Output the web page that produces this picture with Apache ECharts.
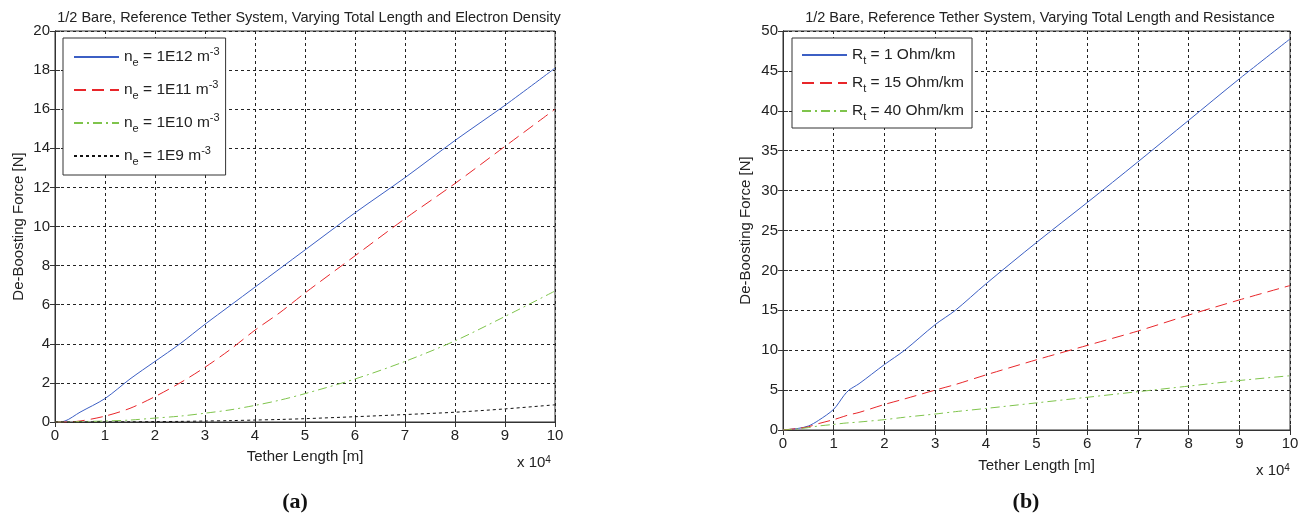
<!DOCTYPE html>
<html>
<head>
<meta charset="utf-8">
<script src="https://cdn.jsdelivr.net/npm/echarts@6/dist/echarts.min.js"></script>
<style>
  html, body { margin: 0; padding: 0; background: #fff; }
  #chart { width: 1306px; height: 515px; }
</style>
</head>
<body>
<div id="chart"></div>
<script>
// tether length, in units of 10^4 m
const lenA = [0, 0.2, 0.5, 1, 1.5, 2, 2.5, 3, 3.5, 4, 4.5, 5, 6, 7, 8, 9, 10];
// (a) de-boosting force [N] for each electron density
const ne12 = [0, 0.05, 0.5, 1.2, 2.2, 3.1, 4.0, 5.0, 5.95, 6.9, 7.85, 8.8, 10.7, 12.5, 14.4, 16.2, 18.1];
const ne11 = [0, 0, 0.05, 0.3, 0.7, 1.3, 2.0, 2.8, 3.7, 4.7, 5.6, 6.6, 8.5, 10.4, 12.2, 14.1, 16.0];
const ne10 = [0, 0, 0.02, 0.05, 0.1, 0.2, 0.3, 0.45, 0.62, 0.85, 1.12, 1.45, 2.2, 3.1, 4.15, 5.4, 6.7];
const ne9 = [0, 0, 0, 0.01, 0.01, 0.02, 0.03, 0.05, 0.07, 0.1, 0.13, 0.17, 0.27, 0.38, 0.5, 0.67, 0.88];

const lenB = [0, 0.3, 0.5, 0.7, 1, 1.2, 1.3, 1.5, 2, 2.4, 3, 3.4, 4, 5, 6, 7, 8, 9, 10];
// (b) de-boosting force [N] for each tether resistance
const rt1 = [0, 0.2, 0.5, 1.2, 2.6, 4.3, 5.0, 5.8, 8.2, 10.0, 13.2, 15.0, 18.3, 23.5, 28.5, 33.6, 38.8, 44.0, 49.0];
const rt15 = [0, 0.2, 0.4, 0.8, 1.3, 1.7, 1.9, 2.2, 3.2, 3.9, 5.0, 5.7, 6.9, 8.8, 10.6, 12.4, 14.4, 16.3, 18.1];
const rt40 = [0, 0.15, 0.3, 0.5, 0.7, 0.85, 0.9, 1.0, 1.3, 1.6, 2.0, 2.3, 2.7, 3.4, 4.1, 4.8, 5.5, 6.2, 6.8];

const BLUE = '#3c5fc4';
const RED = '#e8262a';
const GREEN = '#7fc44c';
const FONT = 'Liberation Sans';
const INK = '#222';

const chart = echarts.init(document.getElementById('chart'));

function pairs(xs, ys) {
  return xs.map((x, i) => [x, ys[i]]);
}

function line(name, idx, xs, ys, color, type) {
  return {
    name: name,
    type: 'line',
    xAxisIndex: idx,
    yAxisIndex: idx,
    data: pairs(xs, ys),
    symbol: 'none',
    smooth: 0.3,
    lineStyle: { color: color, width: 1, type: type },
    itemStyle: { color: color }
  };
}

const gridLine = { show: true, lineStyle: { color: '#222', width: 1, type: [3, 3] } };
const frame = { show: true, lineStyle: { color: '#333', width: 1 } };
const tickIn = { show: true, inside: true, length: 5, lineStyle: { color: '#333' } };
const tickLabel = { color: INK, fontFamily: FONT, fontSize: 15 };
const nameStyle = { color: INK, fontFamily: FONT, fontSize: 15 };

function bottomX(gi, gap) {
  return {
    gridIndex: gi, type: 'value', min: 0, max: 10, interval: 1,
    name: 'Tether Length [m]', nameLocation: 'middle', nameGap: gap,
    nameTextStyle: nameStyle,
    axisLine: frame, axisTick: tickIn, splitLine: gridLine,
    axisLabel: Object.assign({ margin: 6 }, tickLabel)
  };
}
function topX(gi) {
  return {
    gridIndex: gi, type: 'value', position: 'top', min: 0, max: 10, interval: 1,
    axisLine: frame, axisTick: tickIn, splitLine: { show: false }, axisLabel: { show: false }
  };
}
function leftY(gi, max, step, gap) {
  return {
    gridIndex: gi, type: 'value', min: 0, max: max, interval: step,
    name: 'De-Boosting Force [N]', nameLocation: 'middle', nameGap: gap,
    nameTextStyle: nameStyle,
    axisLine: frame, axisTick: tickIn, splitLine: gridLine,
    axisLabel: Object.assign({ margin: 5 }, tickLabel)
  };
}
function rightY(gi, max, step) {
  return {
    gridIndex: gi, type: 'value', position: 'right', min: 0, max: max, interval: step,
    axisLine: frame, axisTick: tickIn, splitLine: { show: false }, axisLabel: { show: false }
  };
}

const legendText = {
  color: INK, fontFamily: FONT, fontSize: 15.5, lineHeight: 22,
  rich: {
    a: { fontFamily: FONT, fontSize: 15.5, color: INK, verticalAlign: 'middle', lineHeight: 22 },
    sub: { fontFamily: FONT, fontSize: 11, color: INK, verticalAlign: 'bottom', lineHeight: 22 },
    sup: { fontFamily: FONT, fontSize: 11, color: INK, verticalAlign: 'top', lineHeight: 22 }
  }
};
const hideSymbol = { color: 'rgba(0,0,0,0)', borderWidth: 0, opacity: 0 };

const tenPow = {
  rich: {
    a: { fontFamily: FONT, fontSize: 15, fill: INK },
    s: { fontFamily: FONT, fontSize: 10, fill: INK, verticalAlign: 'top' }
  },
  text: '{a|x 10}{s|4}'
};

const option = {
  backgroundColor: '#fff',
  animation: false,
  title: [
    { text: '1/2 Bare, Reference Tether System, Varying Total Length and Electron Density',
      left: 304, top: 5, textAlign: 'center',
      textStyle: { fontFamily: FONT, fontSize: 14.5, fontWeight: 'normal', color: INK } },
    { text: '1/2 Bare, Reference Tether System, Varying Total Length and Resistance',
      left: 1035, top: 5, textAlign: 'center',
      textStyle: { fontFamily: FONT, fontSize: 14.5, fontWeight: 'normal', color: INK } },
    { text: '(a)', left: 290, top: 486, textAlign: 'center',
      textStyle: { fontFamily: 'Liberation Serif', fontSize: 22, fontWeight: 'bold', color: '#111' } },
    { text: '(b)', left: 1021, top: 486, textAlign: 'center',
      textStyle: { fontFamily: 'Liberation Serif', fontSize: 22, fontWeight: 'bold', color: '#111' } }
  ],
  grid: [
    { left: 55, right: 751, top: 31, bottom: 93, show: true, borderColor: '#333', borderWidth: 1 },
    { left: 783, right: 16, top: 31, bottom: 85, show: true, borderColor: '#333', borderWidth: 1 }
  ],
  xAxis: [bottomX(0, 27), bottomX(1, 28), topX(0), topX(1)],
  yAxis: [leftY(0, 20, 2, 29), leftY(1, 50, 5, 30), rightY(0, 20, 2), rightY(1, 50, 5)],
  legend: [
    {
      orient: 'vertical', left: 63, top: 38,
      padding: [8, 6, 8, 10], itemGap: 11, itemWidth: 45, itemHeight: 14,
      backgroundColor: '#fff', borderColor: '#333', borderWidth: 1, borderRadius: 0,
      selectedMode: false, itemStyle: hideSymbol,
      data: ['ne12', 'ne11', 'ne10', 'ne9'],
      formatter: function (n) {
        const v = { ne12: '1E12', ne11: '1E11', ne10: '1E10', ne9: '1E9' }[n];
        return '{a|n}{sub|e}{a| = ' + v + ' m}{sup|-3}';
      },
      textStyle: legendText
    },
    {
      orient: 'vertical', left: 792, top: 38,
      padding: [6, 8, 6, 9], itemGap: 6, itemWidth: 45, itemHeight: 14,
      backgroundColor: '#fff', borderColor: '#333', borderWidth: 1, borderRadius: 0,
      selectedMode: false, itemStyle: hideSymbol,
      data: ['rt1', 'rt15', 'rt40'],
      formatter: function (n) {
        const v = { rt1: '1', rt15: '15', rt40: '40' }[n];
        return '{a|R}{sub|t}{a| = ' + v + ' Ohm/km}';
      },
      textStyle: legendText
    }
  ],
  graphic: [
    { type: 'text', left: 517, top: 455, style: tenPow },
    { type: 'text', left: 1256, top: 463, style: tenPow }
  ],
  series: [
    line('ne12', 0, lenA, ne12, BLUE, 'solid'),
    line('ne11', 0, lenA, ne11, RED, [12, 6]),
    line('ne10', 0, lenA, ne10, GREEN, [9, 4, 2, 4]),
    line('ne9', 0, lenA, ne9, '#111', [3, 3]),
    line('rt1', 1, lenB, rt1, BLUE, 'solid'),
    line('rt15', 1, lenB, rt15, RED, [12, 6]),
    line('rt40', 1, lenB, rt40, GREEN, [9, 4, 2, 4])
  ]
};

chart.setOption(option);
</script>
</body>
</html>
